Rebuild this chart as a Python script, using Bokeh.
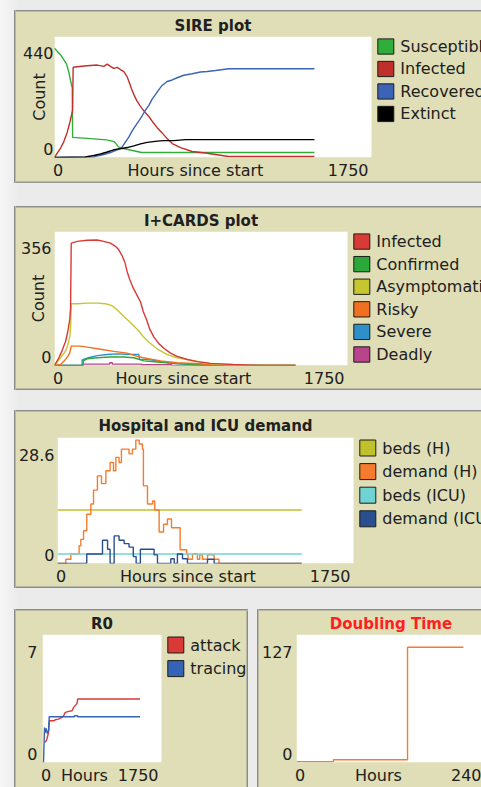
from bokeh.plotting import figure
from bokeh.layouts import column, row
from bokeh.models import Range1d, FixedTicker, BoxAnnotation, LinearAxis
from bokeh.core.properties import value
from bokeh.embed import file_html
from bokeh.resources import INLINE

# ---------------- data ----------------
# SIRE plot (hours since start vs count)
sire_x_max = 1750
sire_y_label = "440"
sire_labels = ["Susceptible", "Infected", "Recovered", "Extinct"]
sire_s_hours = [0, 17, 33, 50, 66, 79, 88, 98, 100, 182, 287, 326, 337, 353, 386, 425, 480, 1435]
sire_s_count = [440, 426, 414, 395, 377, 344, 311, 280, 81, 77, 71, 65, 58, 43, 35, 29, 20, 20]
sire_i_hours = [0, 15, 33, 51, 70, 84, 94, 100, 103, 125, 180, 236, 272, 291, 309, 327, 346, 364, 383, 401,
                414, 426, 440, 455, 471, 484, 502, 521, 539, 567, 594, 622, 650, 696, 760, 834, 960, 1435]
sire_i_count = [0, 18, 37, 63, 101, 139, 171, 191, 363, 365, 369, 372, 367, 376, 367, 359, 363, 354, 346, 325,
                300, 275, 250, 228, 210, 197, 180, 165, 146, 120, 99, 76, 56, 40, 24, 18, 4, 4]
sire_r_hours = [0, 215, 226, 272, 309, 346, 374, 392, 410, 429, 447, 465, 484, 502, 521, 539, 558, 576, 594,
                622, 650, 677, 714, 760, 806, 843, 889, 962, 1435]
sire_r_count = [0, 0, 5, 12, 20, 31, 43, 63, 82, 107, 127, 146, 168, 191, 210, 235, 254, 273, 290,
                306, 312, 321, 331, 337, 344, 346, 350, 357, 357]
sire_e_hours = [0, 170, 217, 254, 291, 327, 364, 401, 438, 475, 512, 567, 603, 659, 723, 1435]
sire_e_count = [0, 2, 8, 14, 22, 31, 35, 40, 47, 55, 61, 66, 68, 68, 72, 72]

# I+CARDS plot
cards_y_label = "356"
cards_labels = ["Infected", "Confirmed", "Asymptomatic", "Risky", "Severe", "Deadly"]
cards_inf_hours = [0, 26, 46, 66, 79, 91, 96, 100, 136, 195, 255, 294, 334, 364, 384, 404, 420, 434, 450, 470,
                   494, 514, 530, 550, 569, 593, 623, 653, 693, 733, 793, 852, 932, 1069, 1230, 1439]
cards_inf_count = [0, 22, 43, 68, 95, 130, 163, 347, 352, 355, 356, 352, 347, 338, 328, 311, 293, 266, 243, 220,
                   198, 180, 153, 130, 103, 81, 62, 49, 35, 26, 17, 11, 6, 3, 0, 0]
cards_conf_hours = [0, 171, 171, 195, 255, 334, 414, 474, 533, 613, 713, 793, 932, 1439]
cards_conf_count = [0, 0, 13, 19, 22, 24, 24, 22, 13, 10, 6, 4, 0, 0]
cards_asy_hours = [0, 36, 66, 79, 91, 96, 100, 136, 195, 255, 305, 334, 354, 384, 414, 444, 474, 504, 524,
                   554, 584, 623, 673, 733, 793, 872, 952, 1051, 1439]
cards_asy_count = [0, 22, 41, 57, 81, 103, 175, 175, 177, 177, 175, 171, 166, 153, 139, 126, 112, 98, 85,
                   71, 58, 44, 31, 22, 17, 10, 4, 0, 0]
cards_risky_hours = [0, 36, 60, 79, 91, 100, 155, 195, 275, 354, 434, 494, 554, 633, 733, 872, 972, 1111, 1439]
cards_risky_count = [0, 3, 14, 26, 35, 55, 55, 52, 46, 40, 35, 26, 20, 13, 8, 5, 2, 0, 0]
cards_sev_hours = [0, 165, 165, 203, 255, 315, 374, 434, 504, 508, 573, 613, 673, 772, 872, 1439]
cards_sev_count = [0, 0, 16, 22, 28, 31, 33, 32, 31, 18, 16, 13, 8, 4, 0, 0]
cards_dead_hours = [0, 170, 330, 345, 520, 700, 1439]
cards_dead_count = [0, 4, 8, 4, 2, 0, 0]

# Hospital and ICU demand (step values)
hosp_y_label = "28.6"
hosp_labels = ["beds (H)", "demand (H)", "beds (ICU)", "demand (ICU)"]
hosp_beds_h_hours = [0, 1444]
hosp_beds_h = [12.4, 12.4]
hosp_beds_icu_hours = [0, 1444]
hosp_beds_icu = [2.2, 2.2]
hosp_dem_h_hours = [0, 49, 79, 128, 138, 154, 173, 197, 213, 236, 260, 286, 311, 331, 345, 364, 378, 423, 443,
                    463, 483, 502, 508, 532, 562, 575, 601, 627, 650, 674, 725, 764, 772, 798, 827, 841, 857,
                    887, 926, 955, 1444]
hosp_dem_h = [0, 1.0, 2.2, 4.1, 5.6, 7.6, 11.4, 13.8, 17.0, 20.3, 18.5, 21.5, 23.4, 21.5, 24.6, 23.4, 26.5, 25.4,
              26.5, 28.6, 27.7, 26.5, 18.0, 13.8, 14.5, 12.4, 7.3, 9.1, 10.3, 8.3, 3.2, 2.2, 1.0, 2.2, 1.0,
              2.0, 1.0, 2.0, 1.0, 0, 0]
hosp_dem_icu_hours = [0, 173, 266, 296, 311, 335, 364, 394, 423, 448, 465, 490, 571, 591, 670, 690, 709, 739,
                      768, 887, 926, 1444]
hosp_dem_icu = [0, 2.2, 5.4, 3.3, 0, 6.4, 5.4, 4.6, 3.8, 1.6, 0, 3.3, 2.0, 0, 1.1, 0, 2.2, 1.1, 0, 1.0, 0, 0]

# R0
r0_y_label = "7"
r0_labels = ["attack", "tracing"]
r0_attack_hours = [40, 65, 89, 103, 163, 188, 236, 287, 310, 336, 384, 435, 458, 508, 517, 1434]
r0_attack = [1.20, 1.39, 1.79, 2.49, 2.49, 2.55, 2.59, 2.69, 2.79, 2.99, 3.05, 3.09, 3.29, 3.53, 3.79, 3.79]
r0_tracing_hours = [15, 15, 30, 40, 55, 69, 89, 99, 469, 469, 517, 517, 1434]
r0_tracing = [0, 0.02, 2.09, 1.79, 2.03, 1.73, 1.91, 2.73, 2.73, 2.79, 2.79, 2.73, 2.73]

# Doubling time
dbl_x_max = 240
dbl_y_label = "127"
dbl_hours = [0, 47, 141, 212]
dbl_time = [1, 3, 127, 127]

# ---------------- style ----------------
FONT = "DejaVu Sans"
TXT = "#202020"
BEIGE = "#dfdeb7"
EDGE = "#8c8c8c"
EDGE2 = "#b9b8a2"
LW = 1.4


def shadow(sides, lpad=0):
    parts = []
    if "l" in sides:
        parts += ["inset %dpx 0 0 %s" % (lpad + 1, EDGE), "inset %dpx 0 0 %s" % (lpad + 2, EDGE2)]
    if "t" in sides:
        parts += ["inset 0 1px 0 %s" % EDGE, "inset 0 2px 0 %s" % EDGE2]
    if "b" in sides:
        parts += ["inset 0 -1px 0 %s" % EDGE, "inset 0 -2px 0 %s" % EDGE2]
    if "r" in sides:
        parts += ["inset -1px 0 0 %s" % EDGE, "inset -2px 0 0 %s" % EDGE2]
    return ", ".join(parts)


def style_axis(ax, size="16px"):
    ax.axis_line_color = None
    ax.major_tick_line_color = None
    ax.minor_tick_line_color = None
    ax.major_tick_out = 0
    ax.major_tick_in = 0
    ax.major_label_text_font = FONT
    ax.major_label_text_font_size = size
    ax.major_label_text_color = TXT


def panel(title, pw, extra, fh, left, top, bottom, xmax, ymax, top_label, hi_label, mid_label,
          ylabel=None, ystand=1, ylab_stand=-28, title_color=TXT, title_stand=2, sides="ltb",
          margin=(0, 0, 0, 0), lpad=0):
    # pw: width of the white plot area (0..xmax); extra: frame width to the right of it
    # lpad: the figure starts lpad px left of the visible panel edge (hidden by a clip-path)
    fw = pw + extra
    xend = xmax * fw / pw
    styles = {"background-color": BEIGE, "box-shadow": shadow(sides, lpad)}
    if lpad:
        styles["clip-path"] = "inset(0px 0px 0px %dpx)" % lpad
    p = figure(frame_width=fw, frame_height=fh, x_range=Range1d(0, xend), y_range=Range1d(0, ymax),
               toolbar_location=None, output_backend="svg",
               min_border_left=left, min_border_top=top, min_border_right=0, min_border_bottom=bottom,
               background_fill_alpha=0, border_fill_alpha=0, outline_line_color=None,
               margin=margin, styles=styles)
    p.grid.visible = False
    p.add_layout(BoxAnnotation(left=0, right=xmax, bottom=0, top=ymax, fill_color="white", fill_alpha=1,
                               line_color=None, level="underlay"))
    # panel title, centred over the white plot area
    tmid = xmax / 2.0
    tax = LinearAxis(ticker=FixedTicker(ticks=[tmid]), major_label_overrides={tmid: title})
    style_axis(tax, "15px")
    tax.major_label_text_font_style = "bold"
    tax.major_label_text_color = title_color
    tax.major_label_standoff = title_stand
    p.add_layout(tax, "above")

    lo = round(ymax * 8.5 / fh, 3)
    hi = round(ymax * (1 - 17.0 / fh), 3)
    yax = p.yaxis[0]
    yax.ticker = FixedTicker(ticks=[lo, hi])
    yax.major_label_overrides = {lo: "0", hi: top_label}
    xax = p.below[0]
    hi_w = 10.18 * len(hi_label)
    lo_px = 3.5
    hi_px = pw - 3 - hi_w / 2
    mid_px = (lo_px + 5 + pw - 3 - hi_w) / 2
    xt = [round(v / pw * xmax, 3) for v in (lo_px, mid_px, hi_px)]
    xax.ticker = FixedTicker(ticks=xt)
    xax.major_label_overrides = {xt[0]: "0", xt[1]: mid_label, xt[2]: hi_label}
    style_axis(xax)
    style_axis(yax)
    xax.major_label_standoff = 3
    yax.major_label_standoff = ystand
    if ylabel:
        yax.axis_label = ylabel
        yax.axis_label_text_font = FONT
        yax.axis_label_text_font_size = "16px"
        yax.axis_label_text_font_style = "normal"
        yax.axis_label_text_color = TXT
        yax.axis_label_standoff = ylab_stand
    return p


def draw_legend(p, labels, colors, pw, fh, xmax, ymax):
    # key drawn inside the (extended) frame, to the right of the white plot area
    xpp = xmax / pw
    ypp = ymax / fh
    n = len(labels)
    rows = [10.5 + 23.6 * i for i in range(n)]
    x0 = (pw + 6.3) * xpp
    x1 = (pw + 6.3 + 16) * xpp
    xt = (pw + 6.3 + 22.5) * xpp
    p.quad(left=[x0] * n, right=[x1] * n,
           top=[ymax - (r - 8) * ypp for r in rows], bottom=[ymax - (r + 8) * ypp for r in rows],
           fill_color=colors, line_color="#1c1c1c", line_width=1)
    p.text(x=[xt] * n, y=[ymax - r * ypp for r in rows], text=labels, text_font=value(FONT),
           text_font_size="16px", text_baseline="middle", text_align="left", text_color=TXT)


# ---- SIRE ----  panel x 14..481, y 10..185 (figure starts at x=0, left 14px clipped)
p1 = panel("SIRE plot", 317, 110, 127, 54, 26, 22, sire_x_max, 487, sire_y_label, "1750",
           "Hours since start", ylabel="Count", ystand=1, ylab_stand=-29, margin=(10, 0, 0, 0), lpad=14)
c1 = ["#2fae3a", "#c0302a", "#3c64b6", "#000000"]
for xs, ys, c in [(sire_s_hours, sire_s_count, c1[0]), (sire_i_hours, sire_i_count, c1[1]),
                  (sire_r_hours, sire_r_count, c1[2]), (sire_e_hours, sire_e_count, c1[3])]:
    p1.line(xs, ys, line_color=c, line_width=LW)
draw_legend(p1, sire_labels, c1, 317, 127, sire_x_max, 487)

# ---- I+CARDS ----  panel y 208..395
p2 = panel("I+CARDS plot", 293, 134, 140, 54, 25, 22, sire_x_max, 380, cards_y_label, "1750",
           "Hours since start", ylabel="Count", ystand=3, ylab_stand=-30, margin=(23, 0, 0, 0), lpad=14)
c2 = ["#d93a35", "#2aa83a", "#c6c62e", "#f07020", "#2f8fc9", "#b8448c"]
p2.step(cards_dead_hours, cards_dead_count, line_color=c2[5], line_width=LW, mode="after")
for xs, ys, c in [(cards_sev_hours, cards_sev_count, c2[4]), (cards_conf_hours, cards_conf_count, c2[1]),
                  (cards_risky_hours, cards_risky_count, c2[3]), (cards_asy_hours, cards_asy_count, c2[2]),
                  (cards_inf_hours, cards_inf_count, c2[0])]:
    p2.line(xs, ys, line_color=c, line_width=LW)
draw_legend(p2, cards_labels, c2, 293, 140, sire_x_max, 380)

# ---- Hospital ----  panel y 415..591 (wrapped in its own row so its borders are not aligned)
p3 = panel("Hospital and ICU demand", 296, 128, 126, 43, 27, 23, sire_x_max, 29.2, hosp_y_label, "1750",
           "Hours since start", ystand=3, title_stand=3, margin=(20, 0, 0, 14))
c3 = ["#c0c02a", "#f57c2c", "#6fd3d3", "#2a4f8f"]
p3.step(hosp_beds_h_hours, hosp_beds_h, line_color=c3[0], line_width=LW, mode="after")
p3.step(hosp_dem_h_hours, hosp_dem_h, line_color=c3[1], line_width=LW, mode="after")
p3.step(hosp_beds_icu_hours, hosp_beds_icu, line_color=c3[2], line_width=LW, mode="after")
p3.step(hosp_dem_icu_hours, hosp_dem_icu, line_color=c3[3], line_width=LW, mode="after")
draw_legend(p3, hosp_labels, c3, 296, 126, sire_x_max, 29.2)

# ---- R0 ----  panel x 14..248, y 612..787
p4 = panel("R0", 119, 87, 128, 28, 25, 22, sire_x_max, 7.64, r0_y_label, "1750", "Hours",
           ystand=5, sides="ltr", margin=(0, 0, 0, 14))
c4 = ["#d93a35", "#3563b5"]
p4.line(r0_attack_hours, r0_attack, line_color=c4[0], line_width=LW)
p4.line(r0_tracing_hours, r0_tracing, line_color=c4[1], line_width=LW)
draw_legend(p4, r0_labels, c4, 119, 128, sire_x_max, 7.64)

# ---- Doubling time ----  panel x 257..481 (plot area continues past the window edge)
p5 = panel("Doubling Time", 189, -4, 128, 39, 25, 22, dbl_x_max, 141, dbl_y_label, "240", "Hours",
           ystand=4, title_color="#ff1f1f", sides="lt", margin=(0, 0, 0, 9))
p5.step(dbl_hours, dbl_time, line_color="#f57c2c", line_width=LW, mode="after")

hosp_row = row(p3)
bottom = row(p4, p5, margin=(21, 0, 0, 0))
layout = column(p1, p2, hosp_row, bottom, width=481, height=787,
                styles={"background": "linear-gradient(to right, #f7f7f7 0px, #ebebeb 18px)",
                        "overflow": "hidden"})

open("out.html", "w").write(file_html(layout, INLINE))
